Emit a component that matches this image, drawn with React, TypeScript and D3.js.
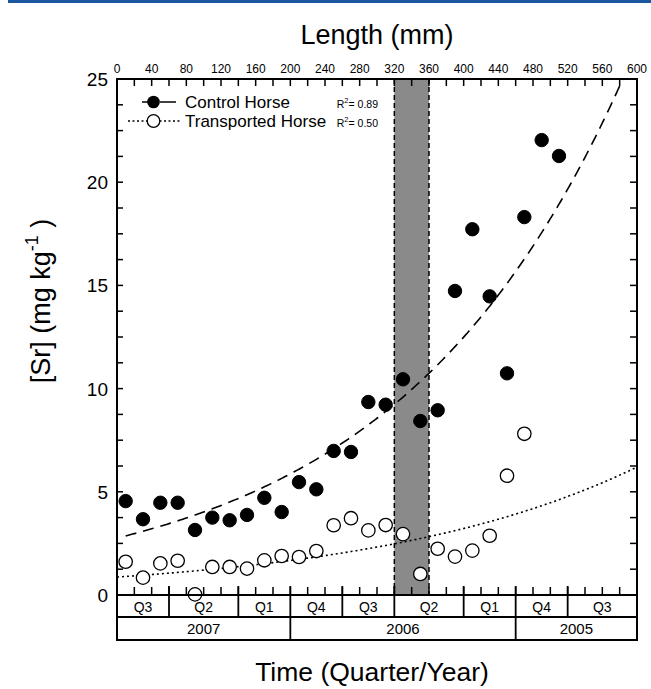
import React from "react";
import * as d3 from "d3";

const lengthMm = [10, 30, 50, 70, 90, 110, 130, 150, 170, 190, 210, 230, 250, 270, 290, 310, 330, 350, 370, 390, 410, 430, 450, 470, 490, 510];
const controlSr = [4.55, 3.67, 4.47, 4.47, 3.15, 3.75, 3.62, 3.88, 4.71, 4.02, 5.47, 5.12, 6.98, 6.93, 9.35, 9.22, 10.45, 8.43, 8.95, 14.73, 17.72, 14.47, 10.74, 18.31, 22.04, 21.27];
const transportedSr = [1.61, 0.84, 1.53, 1.66, 0.03, 1.36, 1.36, 1.28, 1.68, 1.89, 1.84, 2.13, 3.38, 3.72, 3.13, 3.39, 2.95, 1.02, 2.24, 1.86, 2.15, 2.87, 5.78, 7.81];

// exponential fits y = a * exp(b * x)
const controlFit = { a: 2.757, b: 0.003778, from: 10, r2: "0.89" };
const transportedFit = { a: 0.87, b: 0.003273, from: 0, r2: "0.50" };

const topTickLabels = [0, 40, 80, 120, 160, 200, 240, 280, 320, 360, 400, 440, 480, 520, 560, 600];
const yTickLabels = [0, 5, 10, 15, 20, 25];

const quarterLabels = ["Q3", "Q2", "Q1", "Q4", "Q3", "Q2", "Q1", "Q4", "Q3"];
const quarterBounds = [0, 60, 140, 200, 260, 320, 400, 460, 520, 600];
const yearLabels = ["2007", "2006", "2005"];
const yearBounds = [0, 200, 460, 600];
const bandRange = [320, 360];

const L = 117, R = 637, T = 79, B = 595;
const ROW1 = 617, ROW2 = 640;
const FONT = "Liberation Sans, Arial, sans-serif";

export default function App() {
  const x = d3.scaleLinear().domain([0, 600]).range([L, R]);
  const y = d3.scaleLinear().domain([0, 25]).range([B, T]);

  const minorX = d3.range(0, 601, 20);
  const minorY = d3.range(0, 25.01, 1.25);

  const curve = (f: { a: number; b: number; from: number }) => {
    const xs = d3.range(f.from, 600.01, 2);
    const pts = xs.map((v) => [v, f.a * Math.exp(f.b * v)] as [number, number]).filter((p) => p[1] <= 25.05);
    return d3.line<[number, number]>().x((p) => x(p[0])).y((p) => y(Math.min(p[1], 25)))(pts) || "";
  };

  const r = 6.7;
  const lg1 = 102, lg2 = 121;

  return (
    <svg width={651} height={689} style={{ position: "absolute", left: 0, top: 0, background: "#fff" }} fontFamily={FONT}>
      <rect x={0} y={0} width={651} height={689} fill="#fff" />
      <rect x={8} y={0} width={643} height={3} fill="#1b56a0" />

      {/* titles */}
      <text x={377} y={44} textAnchor="middle" fontSize={27}>Length (mm)</text>
      <text x={372} y={681} textAnchor="middle" fontSize={26.5}>Time (Quarter/Year)</text>
      <text transform={`translate(50,301) rotate(-90)`} textAnchor="middle" fontSize={27}>
        [Sr]  (mg kg<tspan dy={-12} fontSize={18}>-1</tspan><tspan dy={12}>  )</tspan>
      </text>

      {/* shaded band */}
      <rect x={x(bandRange[0])} y={T} width={x(bandRange[1]) - x(bandRange[0])} height={B - T} fill="#8a8a8a" />
      {bandRange.map((v, i) => (
        <line key={i} x1={x(v)} x2={x(v)} y1={T} y2={B} stroke="#000" strokeWidth={1.5} strokeDasharray="5,3" />
      ))}

      {/* top ticks & labels */}
      {minorX.map((v, i) => (
        <line key={"tt" + i} x1={x(v)} x2={x(v)} y1={T} y2={T + 7} stroke="#000" strokeWidth={1.5} />
      ))}
      {topTickLabels.map((v, i) => (
        <text key={"tl" + i} x={x(v)} y={73} textAnchor="middle" fontSize={12}>{v}</text>
      ))}
      {/* bottom ticks */}
      {minorX.map((v, i) => (
        <line key={"bt" + i} x1={x(v)} x2={x(v)} y1={B} y2={B - 8} stroke="#000" strokeWidth={1.5} />
      ))}
      {/* left/right ticks */}
      {minorY.map((v, i) => (
        <g key={"yt" + i}>
          <line x1={L} x2={L + 6} y1={y(v)} y2={y(v)} stroke="#000" strokeWidth={1.5} />
          <line x1={R} x2={R - 7} y1={y(v)} y2={y(v)} stroke="#000" strokeWidth={1.5} />
        </g>
      ))}
      {yTickLabels.map((v, i) => (
        <text key={"yl" + i} x={108} y={y(v) + 7} textAnchor="end" fontSize={19}>{v}</text>
      ))}

      {/* fit curves */}
      <path d={curve(controlFit)} fill="none" stroke="#000" strokeWidth={1.6} strokeDasharray="11,7" />
      <path d={curve(transportedFit)} fill="none" stroke="#000" strokeWidth={1.6} strokeDasharray="2,3" />

      {/* points */}
      {transportedSr.map((v, i) => (
        <circle key={"t" + i} cx={x(lengthMm[i])} cy={y(v)} r={r} fill="#fff" stroke="#000" strokeWidth={1.3} />
      ))}
      {controlSr.map((v, i) => (
        <circle key={"c" + i} cx={x(lengthMm[i])} cy={y(v)} r={r} fill="#000" stroke="#000" strokeWidth={1} />
      ))}

      {/* legend */}
      <line x1={142} x2={148} y1={lg1} y2={lg1} stroke="#000" strokeWidth={1.5} />
      <line x1={160} x2={176} y1={lg1} y2={lg1} stroke="#000" strokeWidth={1.5} />
      <circle cx={153.5} cy={lg1} r={6.3} fill="#000" />
      <text x={185} y={108} fontSize={17}>Control Horse</text>
      <text x={378} y={108} textAnchor="end" fontSize={10.5}>R<tspan dy={-5} fontSize={7.5}>2</tspan><tspan dy={5}>= {controlFit.r2}</tspan></text>

      <line x1={128} x2={182} y1={lg2} y2={lg2} stroke="#000" strokeWidth={1.5} strokeDasharray="2,2.5" />
      <circle cx={153.5} cy={lg2} r={6.3} fill="#fff" stroke="#000" strokeWidth={1.3} />
      <text x={185} y={127} fontSize={17}>Transported Horse</text>
      <text x={378} y={127} textAnchor="end" fontSize={10.5}>R<tspan dy={-5} fontSize={7.5}>2</tspan><tspan dy={5}>= {transportedFit.r2}</tspan></text>

      {/* frame */}
      <rect x={L} y={T} width={R - L} height={B - T} fill="none" stroke="#000" strokeWidth={2} />

      {/* quarter / year boxes */}
      <rect x={L} y={B} width={R - L} height={ROW2 - B} fill="none" stroke="#000" strokeWidth={2} />
      <line x1={L} x2={R} y1={ROW1} y2={ROW1} stroke="#000" strokeWidth={2} />
      {quarterBounds.slice(1, -1).map((v, i) => (
        <line key={"qb" + i} x1={x(v)} x2={x(v)} y1={B - 9} y2={ROW1} stroke="#000" strokeWidth={1.8} />
      ))}
      {yearBounds.slice(1, -1).map((v, i) => (
        <line key={"yb" + i} x1={x(v)} x2={x(v)} y1={ROW1} y2={ROW2} stroke="#000" strokeWidth={1.8} />
      ))}
      {quarterLabels.map((q, i) => (
        <text key={"ql" + i} x={(x(quarterBounds[i]) + x(quarterBounds[i + 1])) / 2} y={611.5} textAnchor="middle" fontSize={14}>{q}</text>
      ))}
      {yearLabels.map((q, i) => (
        <text key={"yl2" + i} x={(x(yearBounds[i]) + x(yearBounds[i + 1])) / 2} y={634} textAnchor="middle" fontSize={15}>{q}</text>
      ))}
    </svg>
  );
}
